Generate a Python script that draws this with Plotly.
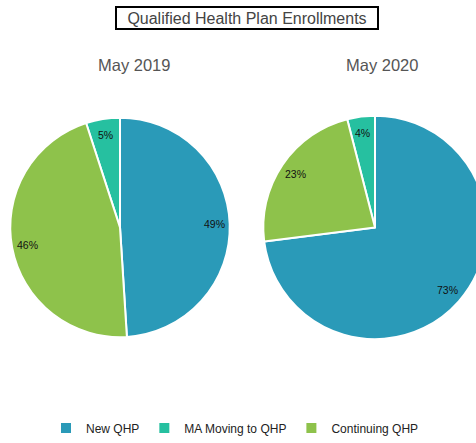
import math
import plotly.graph_objects as go

labels = ["New QHP", "MA Moving to QHP", "Continuing QHP"]
colors = ["#2A9AB8", "#26C0A0", "#8EC24B"]
years = ["May 2019", "May 2020"]
shares_2019 = [49, 5, 46]
shares_2020 = [73, 4, 23]

W, H = 500, 443
LABEL_R = 0.85

# pie boxes in pixels: left, right, top, bottom
boxes = [(9, 231, 119, 341), (262, 488, 117, 343)]


def pie(values, box):
    x0, x1, y0, y1 = box
    # counterclockwise with rotation 0: first slice sits right of 12 o'clock, the rest go left
    return go.Pie(
        labels=labels,
        values=values,
        sort=False,
        direction="counterclockwise",
        marker=dict(colors=colors, line=dict(color="white", width=2)),
        textinfo="none",
        hoverinfo="label+percent",
        domain=dict(x=[x0 / W, x1 / W], y=[(H - y1) / H, (H - y0) / H]),
    )


def pct_labels(fig, values, box):
    x0, x1, y0, y1 = box
    cx, cy = (x0 + x1) / 2, (y0 + y1) / 2
    r = min(x1 - x0, y1 - y0) / 2 * LABEL_R
    total = sum(values)
    a_first = 360 * values[0] / total
    # angles measured clockwise from 12 o'clock
    spans = [(0, a_first)]
    cur = 0
    for v in values[1:]:
        a = 360 * v / total
        spans.append((cur - a, cur))
        cur -= a
    for v, (a0, a1) in zip(values, spans):
        mid = math.radians((a0 + a1) / 2)
        px, py = cx + r * math.sin(mid), cy - r * math.cos(mid)
        fig.add_annotation(text=f"{round(100 * v / total)}%", x=px / W, y=1 - py / H,
                           xref="paper", yref="paper", showarrow=False,
                           xanchor="center", yanchor="middle",
                           font=dict(size=10.5, color="#111"))


fig = go.Figure()
for vals, box in zip([shares_2019, shares_2020], boxes):
    fig.add_trace(pie(vals, box))
    pct_labels(fig, vals, box)

fig.add_annotation(
    text="Qualified Health Plan Enrollments", x=247 / W, y=1 - 18.5 / H, xref="paper", yref="paper",
    xanchor="center", yanchor="middle", showarrow=False, width=258, height=18,
    font=dict(size=16, color="#444"), bordercolor="black", borderwidth=2, borderpad=1,
)
for name, cx in zip(years, [134, 382]):
    fig.add_annotation(text=name, x=cx / W, y=1 - 66 / H, xref="paper", yref="paper",
                       xanchor="center", yanchor="middle",
                       showarrow=False, font=dict(size=16.5, color="#555"))

fig.update_layout(
    width=W,
    height=H,
    margin=dict(l=0, r=0, t=0, b=0),
    paper_bgcolor="white",
    font=dict(family="Liberation Sans, Arial, sans-serif"),
    legend=dict(orientation="h", x=235 / W, xanchor="center", y=1 - 433 / H, yanchor="middle",
                font=dict(size=12, color="#222"), traceorder="normal"),
)

fig.write_html("out.html", config={"displayModeBar": False},
               post_script="document.body.style.margin='0';document.body.style.overflow='hidden';")
